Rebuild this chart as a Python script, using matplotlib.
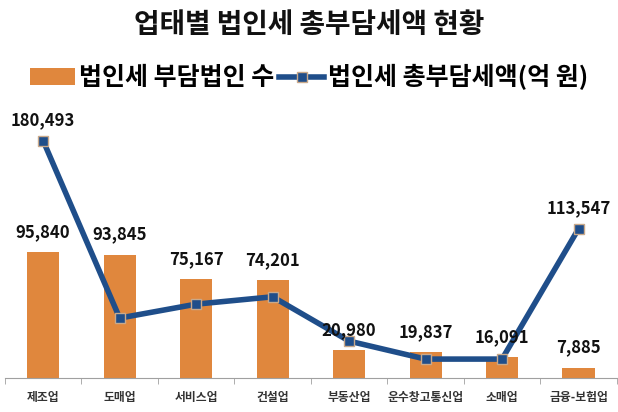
import numpy as np
import matplotlib.pyplot as plt

plt.rcParams['font.family'] = ['Noto Sans CJK KR', 'DejaVu Sans']

categories = ['제조업', '도매업', '서비스업', '건설업', '부동산업', '운수창고통신업', '소매업', '금융-보험업']
corp_count = [95840, 93845, 75167, 74201, 20980, 19837, 16091, 7885]
tax_total = [180493, 45600, 56200, 61800, 28100, 14400, 14400, 113547]
line_labels = {0: '180,493', 7: '113,547'}

bar_color = '#E0873D'
line_color = '#1F4E8A'

fig = plt.figure(figsize=(6.18, 4.12), dpi=100)
ax = fig.add_axes([0.008, 0.0825, 0.99, 0.638])

x = np.arange(len(categories))
bars = ax.bar(x, corp_count, width=0.42, color=bar_color, zorder=2, label='법인세 부담법인 수')
line, = ax.plot(x, tax_total, color=line_color, linewidth=4, marker='s', markersize=7,
                markerfacecolor=line_color, markeredgecolor='#C9A98A', markeredgewidth=1,
                zorder=3, label='법인세 총부담세액(억 원)')

for i, v in enumerate(corp_count):
    ax.annotate(f'{v:,}', (x[i], v), xytext=(0, 8), textcoords='offset points',
                ha='center', va='bottom', fontsize=12, fontweight='bold', color='#111111', zorder=4)
for i, s in line_labels.items():
    ax.annotate(s, (x[i], tax_total[i]), xytext=(0, 8), textcoords='offset points',
                ha='center', va='bottom', fontsize=12, fontweight='bold', color='#111111', zorder=4)

ax.set_xlim(-0.5, len(categories) - 0.5)
ax.set_ylim(0, 200000)
ax.set_yticks([])
for s in ['top', 'right', 'left']:
    ax.spines[s].set_visible(False)
ax.spines['bottom'].set_color('#A0A0A0')
ax.set_xticks(x)
ax.set_xticklabels(categories, fontsize=8.5, fontweight='bold', color='#333333')
ax.tick_params(axis='x', length=0, pad=9)
ax.set_xticks(np.arange(-0.5, len(categories)), minor=True)
ax.tick_params(axis='x', which='minor', length=4, color='#A0A0A0')

fig.text(0.5, 0.94, '업태별 법인세 총부담세액 현황', ha='center', va='center',
         fontsize=20, fontweight='bold', color='#111111')
fig.legend([bars, line], ['법인세 부담법인 수', '법인세 총부담세액(억 원)'],
           loc='center', bbox_to_anchor=(0.5, 0.812), ncol=2, frameon=False,
           handlelength=1.8, handletextpad=0.15, columnspacing=0.2,
           prop={'weight': 'bold', 'size': 18})

fig.savefig('out.png', dpi=100)
